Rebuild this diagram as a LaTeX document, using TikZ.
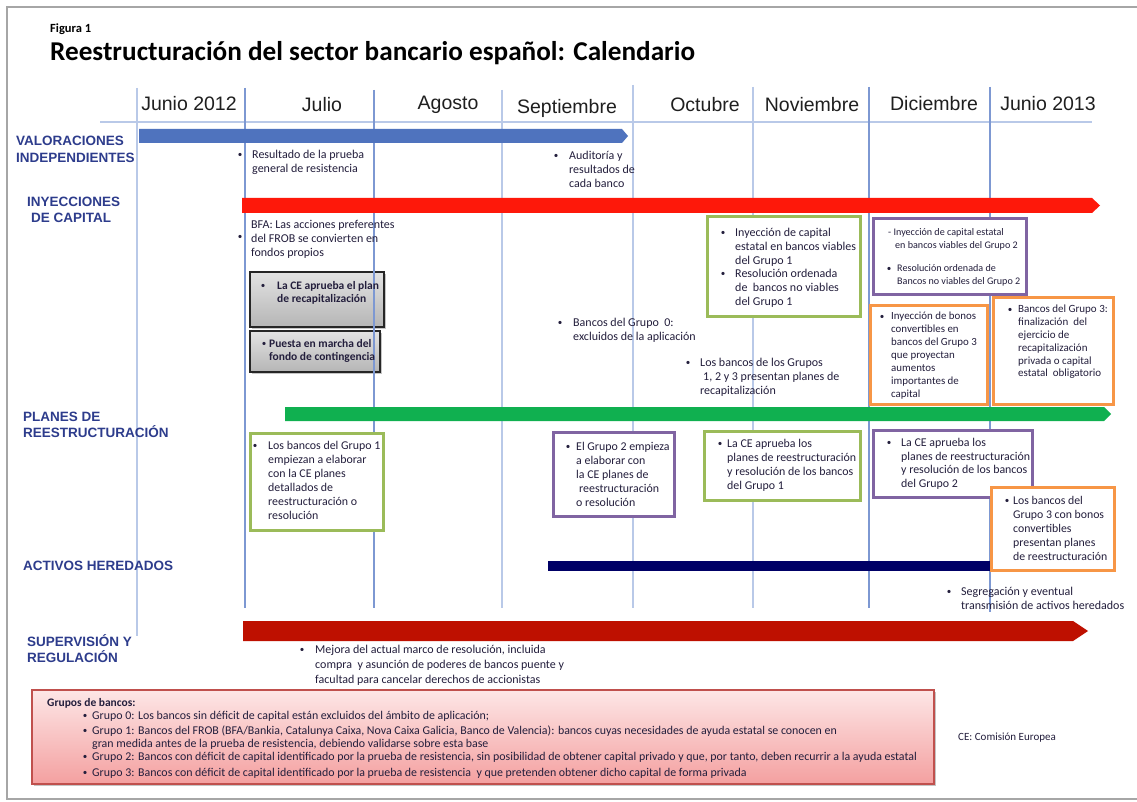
\documentclass[tikz,border=0pt]{standalone}
\usepackage{fontspec}
\setmainfont{Carlito}
\newfontfamily\arialf{Liberation Sans}
\usetikzlibrary{shadows}
\definecolor{gridA}{RGB}{185,201,232}
\definecolor{gridB}{RGB}{125,152,210}
\definecolor{barblue}{RGB}{79,115,190}
\definecolor{barred}{RGB}{254,24,10}
\definecolor{bargreen}{RGB}{16,176,80}
\definecolor{barnavy}{RGB}{0,0,102}
\definecolor{bardred}{RGB}{190,16,0}
\definecolor{bxgreen}{RGB}{155,187,89}
\definecolor{bxpurple}{RGB}{128,100,162}
\definecolor{bxorange}{RGB}{247,150,70}
\definecolor{labc}{RGB}{45,60,140}
\definecolor{txtc}{RGB}{35,30,60}
\definecolor{legtop}{RGB}{253,230,230}
\definecolor{legbot}{RGB}{244,160,160}
\definecolor{legbd}{RGB}{192,80,77}
\begin{document}
\begin{tikzpicture}[x=1pt,y=-1pt,
  txt/.style={inner sep=0pt, anchor=north west, align=left, text=txtc, font=\fontsize{12}{13.8}\selectfont},
  gtxt/.style={txt, font=\bfseries\fontsize{11.5}{13}\selectfont},
  bul/.style={inner sep=0pt, anchor=center, text=txtc, font=\fontsize{9}{9}\selectfont},
  mon/.style={inner sep=0pt, anchor=center, font=\arialf\fontsize{19.5}{20}\selectfont, text=black!88},
  lab/.style={inner sep=0pt, anchor=west, align=left, text=labc, font=\arialf\bfseries\fontsize{13.5}{16.5}\selectfont},
  leg/.style={inner sep=0pt, anchor=west, text=txtc, font=\fontsize{11.9}{12}\selectfont},
  gridl/.style={line width=1.2pt},
  bxg/.style={draw=bxgreen, line width=3pt, fill=white},
  bxp/.style={draw=bxpurple, line width=3pt, fill=white},
  bxo/.style={draw=bxorange, line width=3pt, fill=white},
  greybox/.style={draw=black!85, line width=1.5pt, top color=gray!22, bottom color=gray!58,
     drop shadow={shadow xshift=1.5pt, shadow yshift=-1.5pt, fill=black!45}}
]
\useasboundingbox (0,0) rectangle (1137,802);
\fill[white] (0,0) rectangle (1137,802);
\draw[gray!70, line width=1.5pt] (7,7) rectangle (1150,799);

% title
\node[inner sep=0pt, anchor=west, font=\bfseries\fontsize{12.5}{14}\selectfont] (fig) at (50,29) {Figura 1};
\node[inner sep=0pt, anchor=west, font=\bfseries\fontsize{27.2}{29}\selectfont] (title) at (50,53) {Reestructuración del sector bancario español: Calendario};

% grey boxes (under grid)
\draw[greybox] (250,272) rectangle (384,327);
\draw[greybox] (250,331) rectangle (380,372);

% grid
\draw[gridA, gridl] (100,122) -- (1092,122);
\draw[gridA, gridl] (137,88) -- (137,636);
\draw[gridB, gridl] (245,88) -- (245,608);
\draw[gridB, gridl] (374,90) -- (374,608);
\draw[gridA, gridl] (502,90) -- (502,608);
\draw[gridA, gridl] (633,85) -- (633,608);
\draw[gridA, gridl] (753,87) -- (753,608);
\draw[gridB, gridl] (869,87) -- (869,608);
\draw[gridB, gridl] (990,87) -- (990,612);

% months
\node[mon] (m1) at (189,104) {Junio 2012};
\node[mon] (m2) at (322,105) {Julio};
\node[mon] (m3) at (448,105) {Agosto};
\node[mon] (m4) at (567,108) {Septiembre};
\node[mon] (m5) at (705,105) {Octubre};
\node[mon] (m6) at (812,105) {Noviembre};
\node[mon] (m7) at (934,104) {Diciembre};
\node[mon] (m8) at (1048,104) {Junio 2013};

% row labels
\node[lab] (r1) at (16,149.5) {VALORACIONES\\INDEPENDIENTES};
\node[lab] (r2) at (27,210) {INYECCIONES\\\hspace*{4pt}DE CAPITAL};
\node[lab] (r3) at (23,425) {PLANES DE\\REESTRUCTURACIÓN};
\node[lab] (r4) at (23,566) {ACTIVOS HEREDADOS};
\node[lab] (r5) at (27,648.5) {SUPERVISIÓN Y\\REGULACIÓN};

% bars
\fill[barblue] (139,129) -- (622,129) -- (628,136) -- (622,143) -- (139,143) -- cycle;
\fill[barred] (242,198) -- (1092,198) -- (1100,205.5) -- (1092,213) -- (242,213) -- cycle;
\fill[bargreen] (285,407) -- (1104,407) -- (1111,414) -- (1104,421) -- (285,421) -- cycle;
\fill[barnavy] (548,561) rectangle (1000,571);
\fill[bardred] (243,621) -- (1073,621) -- (1088,631) -- (1073,641) -- (243,641) -- cycle;

% free texts
\node[bul] (b1) at (240,155) {•};
\node[txt] (t1) at (252,150) {Resultado de la prueba\\general de resistencia};
\node[bul] (b2) at (556,156) {•};
\node[txt] (t2) at (569,151) {Auditoría y\\resultados de\\cada banco};
\node[bul] (b3) at (240,237) {•};
\node[txt] (t3) at (251,220) {BFA: Las acciones preferentes\\del FROB se convierten en\\fondos propios};
\node[bul] (b4) at (263,286) {•};
\node[gtxt] (t4) at (277,281) {La CE aprueba el plan\\de recapitalización};
\node[bul] (b5) at (264,344) {•};
\node[gtxt] (t5) at (269,339) {Puesta en marcha del\\fondo de contingencia};
\node[bul] (b6) at (560,323) {•};
\node[txt] (t6) at (573,318) {Bancos del Grupo\ \ 0:\\excluidos de la aplicación};
\node[bul] (b7) at (688,363) {•};
\node[txt] (t7) at (700,358) {Los bancos de los Grupos\\\hspace*{3pt}1, 2 y 3 presentan planes de\\recapitalización};

% green box A
\draw[bxg] (707,217) rectangle (860,316);
\node[bul] (b8) at (723,233) {•};
\node[txt] (t8) at (735,228) {Inyección de capital\\estatal en bancos viables\\del Grupo 1};
\node[bul] (b9) at (723,274) {•};
\node[txt] (t9) at (735,269) {Resolución ordenada\\de\ \ bancos no viables\\del Grupo 1};

% purple box A
\draw[bxp] (873,219) rectangle (1026,294);
\node[txt, font=\fontsize{10.1}{12.5}\selectfont] (t10) at (888,228.5) {- Inyección de capital estatal\\\hspace*{7pt}en bancos viables del Grupo 2};
\node[bul] (b11) at (889,269) {•};
\node[txt, font=\fontsize{10.1}{12.5}\selectfont] (t11) at (897,264.5) {Resolución ordenada de\\Bancos no viables del Grupo 2};

% orange box A
\draw[bxo] (870,305) rectangle (987,404);
\node[bul] (b12) at (882,317) {•};
\node[txt, font=\fontsize{10.9}{13}\selectfont] (t12) at (891,312) {Inyección de bonos\\convertibles en\\bancos del Grupo 3\\que proyectan\\aumentos\\importantes de\\capital};

% orange box B
\draw[bxo] (993,297) rectangle (1113,404);
\node[bul] (b13) at (1010,310) {•};
\node[txt, font=\fontsize{11}{12.8}\selectfont] (t13) at (1018,305) {Bancos del Grupo 3:\\finalización\ \ del\\ejercicio de\\recapitalización\\privada o capital\\estatal\ \ obligatorio};

% green box B
\draw[bxg] (250,433) rectangle (383,530);
\node[bul] (b14) at (255,446) {•};
\node[txt, font=\fontsize{11.9}{14}\selectfont] (t14) at (268,441) {Los bancos del Grupo 1\\empiezan a elaborar\\con la CE planes\\detallados de\\reestructuración o\\resolución};

% purple box B
\draw[bxp] (553,432) rectangle (674,516);
\node[bul] (b15) at (568,447) {•};
\node[txt, font=\fontsize{11.9}{14}\selectfont] (t15) at (576,442) {El Grupo 2 empieza\\a elaborar con\\la CE planes de\\\hspace*{3pt}reestructuración\\o resolución};

% green box C
\draw[bxg] (704,431) rectangle (860,500);
\node[bul] (b16) at (720,444) {•};
\node[txt, font=\fontsize{11.9}{14}\selectfont] (t16) at (727,439) {La CE aprueba los\\planes de reestructuración\\y resolución de los bancos\\del Grupo 1};

% purple box C
\draw[bxp] (873,430) rectangle (1032,497);
\node[bul] (b17) at (889,443) {•};
\node[txt, font=\fontsize{11.9}{13.7}\selectfont] (t17) at (901,438) {La CE aprueba los\\planes de reestructuración\\y resolución de los bancos\\del Grupo 2};

% orange box C
\draw[bxo] (991,487) rectangle (1114,570);
\node[bul] (b18) at (1007,501) {•};
\node[txt, font=\fontsize{11.8}{14}\selectfont] (t18) at (1013,496) {Los bancos del\\Grupo 3 con bonos\\convertibles\\presentan planes\\de reestructuración};

% lower texts
\node[bul] (b19) at (949,592) {•};
\node[txt] (t19) at (961,587) {Segregación y eventual\\transmisión de activos heredados};
\node[bul] (b20) at (302,650) {•};
\node[txt, font=\fontsize{12}{15}\selectfont] (t20) at (315,645) {Mejora del actual marco de resolución, incluida\\compra\ \ y asunción de poderes de bancos puente y\\facultad para cancelar derechos de accionistas};

% legend
\draw[draw=legbd, line width=1.2pt, top color=legtop, bottom color=legbot,
  drop shadow={shadow xshift=1.5pt, shadow yshift=-1.5pt, fill=black!45}] (32,690) rectangle (934,784);
\node[leg, font=\bfseries\fontsize{11.5}{12}\selectfont] (lg) at (47,703) {Grupos de bancos:};
\node[bul] (lb0) at (85,716) {•};
\node[leg] (l0) at (92,716) {Grupo 0: Los bancos sin déficit de capital están excluidos del ámbito de aplicación;};
\node[bul] (lb1) at (85,731) {•};
\node[leg] (l1) at (92,731) {Grupo 1: Bancos del FROB (BFA/Bankia, Catalunya Caixa, Nova Caixa Galicia, Banco de Valencia): bancos cuyas necesidades de ayuda estatal se conocen en};
\node[leg] (l1b) at (92,744) {gran medida antes de la prueba de resistencia, debiendo validarse sobre esta base};
\node[bul] (lb2) at (85,757) {•};
\node[leg] (l2) at (92,757) {Grupo 2: Bancos con déficit de capital identificado por la prueba de resistencia, sin posibilidad de obtener capital privado y que, por tanto, deben recurrir a la ayuda estatal};
\node[bul] (lb3) at (85,773) {•};
\node[leg] (l3) at (92,773) {Grupo 3: Bancos con déficit de capital identificado por la prueba de resistencia\ \ y que pretenden obtener dicho capital de forma privada};

\node[leg, font=\fontsize{11}{12}\selectfont] (ce) at (958,738) {CE: Comisión Europea};
\end{tikzpicture}
\end{document}
